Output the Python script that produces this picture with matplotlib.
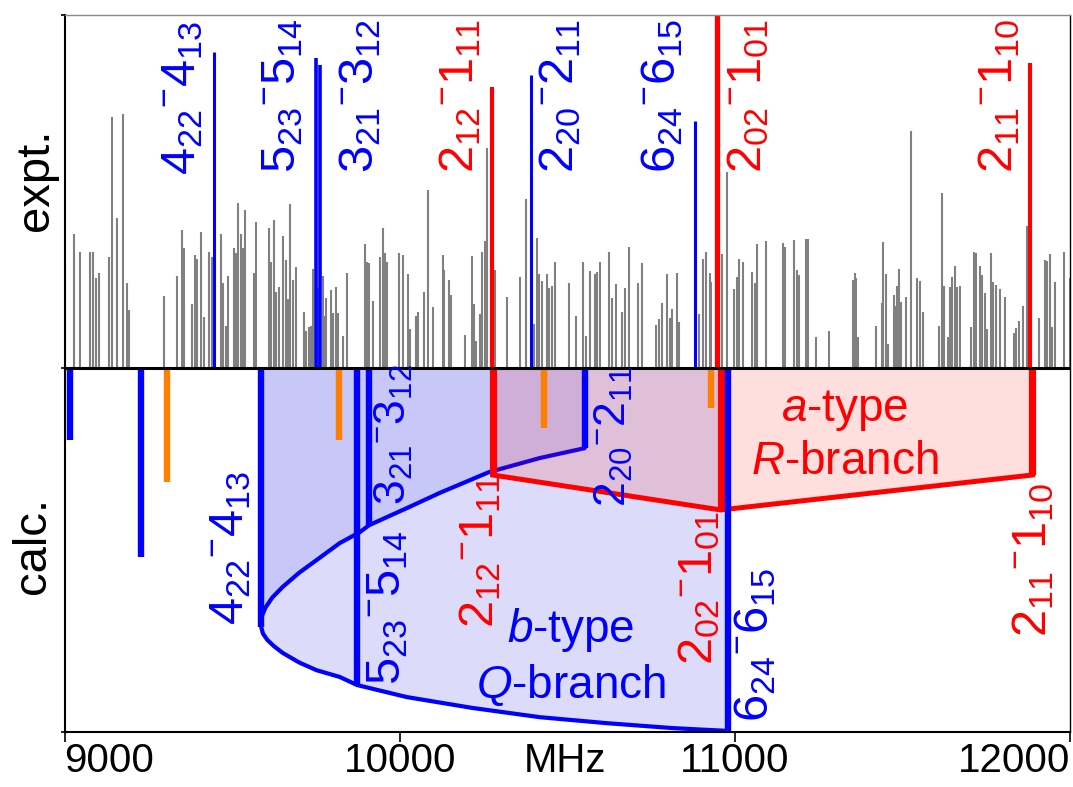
import matplotlib
matplotlib.use("Agg")
import matplotlib.pyplot as plt
import numpy as np

plt.rcParams["font.family"] = "Liberation Sans"
plt.rcParams["mathtext.fontset"] = "custom"
plt.rcParams["mathtext.rm"] = "Liberation Sans"
plt.rcParams["mathtext.it"] = "Liberation Sans:italic"
plt.rcParams["mathtext.bf"] = "Liberation Sans:bold"

# experimental spectrum (MHz, relative intensity)
expt_freq = [
    9000, 9028, 9047, 9076, 9084, 9093, 9102, 9133, 9142, 9156, 9175, 9185, 9193,
    9298, 9337, 9351, 9357, 9379, 9389, 9395, 9407, 9417, 9431, 9439, 9466, 9474,
    9481, 9489, 9505, 9512, 9519, 9527, 9532, 9539, 9564, 9572, 9610, 9617, 9624,
    9632, 9640, 9652, 9660, 9667, 9674, 9682, 9690, 9714, 9722, 9729, 9736, 9741,
    9756, 9771, 9776, 9781, 9794, 9801, 9809, 9816, 9831, 9843, 9896, 9902, 9908,
    9920, 9942, 9950, 9955, 9963, 9998, 10009, 10024, 10031, 10049, 10056, 10072,
    10084, 10099, 10128, 10133, 10146, 10153, 10195, 10215, 10221, 10228, 10241,
    10245, 10255, 10261, 10283, 10320, 10360, 10377, 10402, 10410, 10417, 10425,
    10440, 10447, 10454, 10464, 10505, 10525, 10547, 10557, 10568, 10583, 10590,
    10598, 10625, 10635, 10645, 10663, 10673, 10685, 10710, 10723, 10766, 10774,
    10784, 10799, 10806, 10814, 10826, 10832, 10892, 10905, 10913, 10925, 10930,
    10963, 10976, 10998, 11007, 11012, 11024, 11052, 11060, 11067, 11094, 11144,
    11151, 11176, 11184, 11191, 11211, 11218, 11241, 11281, 11352, 11358, 11362,
    11368, 11422, 11438, 11441, 11452, 11456, 11474, 11479, 11484, 11491, 11497,
    11510, 11525, 11543, 11551, 11561, 11608, 11618, 11625, 11636, 11643, 11648,
    11656, 11663, 11671, 11705, 11713, 11720, 11732, 11738, 11745, 11753, 11763,
    11770, 11780, 11792, 11805, 11832, 11839, 11849, 11859, 11872, 11909, 11924,
    11931, 11939, 11946, 11956, 11981, 12000,
]
expt_int = [
    30, 38, 33, 33, 33, 25.5, 27, 31.5, 71, 42.5, 72, 24, 16.4,
    20.4, 26, 39, 34, 18, 32, 31, 38.5, 14.5, 33, 31.5, 38, 24,
    12, 26, 34, 32.5, 46.7, 38, 34, 44.8, 27, 41.4, 39.7, 30, 42,
    21.5, 23, 37.4, 30.6, 19.5, 46.5, 25, 28.6, 16, 10.5, 11.6, 12, 28,
    22.6, 26, 14.7, 19.8, 22, 15.6, 23, 15.6, 9, 27, 35, 30, 29.7,
    19, 31.5, 39.7, 32.6, 30, 32.6, 32, 26.6, 11, 14.7, 15.8, 21.5,
    50.4, 17.3, 32, 27.8, 25, 20.7, 9.3, 31.7, 18, 7.6, 15.3,
    33, 36, 62.3, 27.8, 20, 25.8, 47.9, 12.5, 36.8, 26.6, 24.6,
    26.6, 22.7, 23.2, 30, 24, 14.7, 30, 9, 27.5, 26.6, 27.2,
    30, 33, 19.8, 23.8, 15.8, 22.7, 34.3, 24, 29.7, 12.2, 13.9,
    18.4, 26.6, 14.2, 16.7, 27, 13, 15.3, 31, 33, 27, 24.4,
    32.3, 55.5, 22.4, 25.8, 31, 30, 27.2, 24, 35, 36, 35.4,
    34.3, 36.3, 27.8, 26.3, 36.5, 36.5, 8.8, 10.5, 25, 27, 25.5,
    8.8, 12, 18.4, 35.7, 26.6, 6.8, 20.7, 17.6, 23.2, 28, 18.7,
    20, 67, 25.5, 24.6, 16, 12, 49.5, 23.2, 8.8, 23, 25.8,
    28.9, 23, 23.2, 11.6, 33, 32.6, 28.9, 26.3, 21.2, 11, 32.6,
    24.4, 23.5, 22.4, 20, 10, 11.3, 13.3, 17.6, 40.2, 14.2, 30.6,
    30.3, 32.3, 11.6, 24.4, 33, 25.5,
]

# assigned transitions
trans_labels = [
    "4_{22}", "5_{23}", "3_{21}", "2_{12}", "2_{20}", "6_{24}", "2_{02}", "2_{11}",
]
trans_lower = [
    "4_{13}", "5_{14}", "3_{12}", "1_{11}", "2_{11}", "6_{15}", "1_{01}", "1_{10}",
]
trans_type = ["b", "b", "b", "a", "b", "b", "a", "a"]
expt_assigned_freq = [9445, 9749, 9763, 10275, 10392, 10881, 10948, 11881]
expt_assigned_int = [89.5, 87.8, 85.8, 79.6, 83.0, 70.0, 110.0, 86.4]
calc_assigned_freq = [9587, 9873, 9909, 10278, 10552, 10981, 10958, 11888]
calc_assigned_int = [-73.4, -89.8, -44.5, -30.3, -22.7, -102.8, -40.2, -30.3]

# other calculated lines
calc_other_freq = [9015, 9229, 9305, 9819, 10430, 10928]
calc_other_int = [-20.4, -53.5, -32.3, -20.4, -17.0, -11.3]
calc_other_type = ["b", "b", "c", "c", "c", "c"]

# Q-branch envelope (J=2 -> J=6)
q_curve_freq = [
    10552, 10418, 10266, 10119, 10021, 9909, 9881, 9821, 9752, 9700, 9651, 9620,
    9600, 9590, 9585, 9587, 9592, 9605, 9625, 9651, 9700, 9752, 9821, 9873,
    10021, 10218, 10418, 10618, 10815, 10981,
]
q_curve_int = [
    -22.7, -25.5, -29.5, -35.4, -39.7, -44.5, -46.5, -49.6, -54.4, -58.0, -62.0, -65.0,
    -67.8, -70.0, -72.0, -73.4, -75.2, -77.0, -78.8, -80.7, -83.4, -85.6, -87.5, -89.8,
    -93.2, -96.3, -98.9, -100.6, -102.0, -102.8,
]

colors = {"a": "#FF0000", "b": "#0000FF", "c": "#FF8000"}

Y_TOP = 100.0
Y_BOT = -103.1

fig = plt.figure(figsize=(10.73, 7.87), dpi=100)
ax = fig.add_axes([64.5 / 1073, 55 / 787, (1070 - 64.5) / 1073, 717 / 787])
ax.set_xlim(9000, 12000)
ax.set_ylim(Y_BOT, Y_TOP)

# expt. stick spectrum
ax.vlines(expt_freq, 0, expt_int, color="#808080", lw=1.5, zorder=1)
expt_lw = [2.2, 2.6, 2.6, 3.0, 2.2, 2.2, 3.8, 3.0]
for f, h, t, lw in zip(expt_assigned_freq, expt_assigned_int, trans_type, expt_lw):
    ax.vlines(f, 0, h, color=colors[t], lw=lw, zorder=3)

# Q-branch fills
i_v = int(np.argmin(q_curve_freq))
i_v = q_curve_freq.index(calc_assigned_freq[0])
f_j2, f_j6 = q_curve_freq[0], q_curve_freq[-1]
f_v = q_curve_freq[i_v]
ax.fill(q_curve_freq + [f_j6, f_j2], q_curve_int + [0, 0], color="#DCDCFA", lw=0, zorder=2)
ax.fill(q_curve_freq[: i_v + 1] + [f_v, f_j2], q_curve_int[: i_v + 1] + [0, 0],
        color="#C8C8F8", lw=0, zorder=2)
ax.plot(q_curve_freq, q_curve_int, color="#0000FF", lw=3, zorder=3,
        solid_joinstyle="round", solid_capstyle="round")

# R-branch polygon
r_idx = sorted([i for i, t in enumerate(trans_type) if t == "a"], key=lambda i: calc_assigned_freq[i])
r_f = [calc_assigned_freq[i] for i in r_idx]
r_h = [calc_assigned_int[i] for i in r_idx]
ax.fill([r_f[0]] + r_f + [r_f[-1]], [0] + r_h + [0], color="#FF0000", alpha=0.13, lw=0, zorder=4)
ax.plot(r_f, r_h, color="#FF0000", lw=3.6, zorder=5)

# calc. sticks
for f, h, t in zip(calc_assigned_freq, calc_assigned_int, trans_type):
    ax.vlines(f, 0, h, color=colors[t], lw=4.6 if t == "b" else 5.2, zorder=6 if t == "b" else 5)
for f, h, t in zip(calc_other_freq, calc_other_int, calc_other_type):
    ax.vlines(f, 0, h, color=colors[t], lw=4.6, zorder=6)

ax.axhline(0, color="black", lw=2.2, zorder=8)

# transition labels (x, y, ha, size) top then bottom
top_pos = [(9419, 54.7, "right", 35), (9718, 55.2, "right", 35), (9950, 55.2, "right", 35),
           (10249, 55.2, "right", 35), (10410, 55.2, "left", 35), (10852, 55.2, "right", 35),
           (10971, 55.2, "left", 35), (11857, 55.2, "right", 35)]
bot_pos = [(9562, -72.8, "right", 35), (9896, -89.8, "left", 35), (9920, -38.8, "left", 32),
           (10308, -73.7, "right", 35), (10577, -39.4, "left", 32), (10994, -100.3, "left", 35),
           (10962, -84.1, "right", 35), (11960, -76.2, "right", 35)]
for up, lo, t, tp, bp in zip(trans_labels, trans_lower, trans_type, top_pos, bot_pos):
    s = r"$\mathregular{" + up + "{}^{-}" + lo + "}$"
    for (x, y, ha, fs) in (tp, bp):
        ax.text(x, y, s, rotation=90, ha=ha, va="bottom", color=colors[t],
                fontsize=fs, zorder=9)

ax.text(10510, -74.2, r"$\mathit{b}$-type", color="#0000FF", fontsize=33,
        ha="center", va="center", zorder=9)
ax.text(10513, -89.8, r"$\mathit{Q}$-branch", color="#0000FF", fontsize=33,
        ha="center", va="center", zorder=9)
ax.text(11329, -11.9, r"$\mathit{a}$-type", color="#FF0000", fontsize=33,
        ha="center", va="center", zorder=9)
ax.text(11329, -26.6, r"$\mathit{R}$-branch", color="#FF0000", fontsize=33,
        ha="center", va="center", zorder=9)

# axes styling
for side in ["left", "bottom", "right"]:
    ax.spines[side].set_color("black")
ax.spines["left"].set_linewidth(1.5)
ax.spines["bottom"].set_linewidth(1.5)
ax.spines["right"].set_linewidth(1.0)
ax.spines["top"].set_color("#888888")
ax.spines["top"].set_linewidth(1.0)
for sp in ax.spines.values():
    sp.set_zorder(10)

ax.set_yticks([Y_BOT, 0, Y_TOP])
ax.set_yticklabels([])
ax.tick_params(axis="y", length=3, width=1.2, direction="out")
ax.set_xticks([9000, 10000, 11000, 12000])
ax.set_xticklabels(["9000", "10000", "11000", "12000"], fontsize=29)
ax.tick_params(axis="x", length=7, width=1.2, direction="out", pad=0)
xl = ax.get_xticklabels()
xl[0].set_horizontalalignment("left")
xl[-1].set_horizontalalignment("right")

ax.annotate("MHz", xy=(10493, 0), xycoords=("data", "axes fraction"),
            xytext=(0, -7), textcoords="offset points", ha="center", va="top", fontsize=29)

fig.text(36 / 1073, 1 - 180 / 787, "expt.", rotation=90, ha="center", va="center", fontsize=34)
fig.text(33 / 1073, 1 - 545 / 787, "calc.", rotation=90, ha="center", va="center", fontsize=34)

fig.savefig("out.png", dpi=100)
